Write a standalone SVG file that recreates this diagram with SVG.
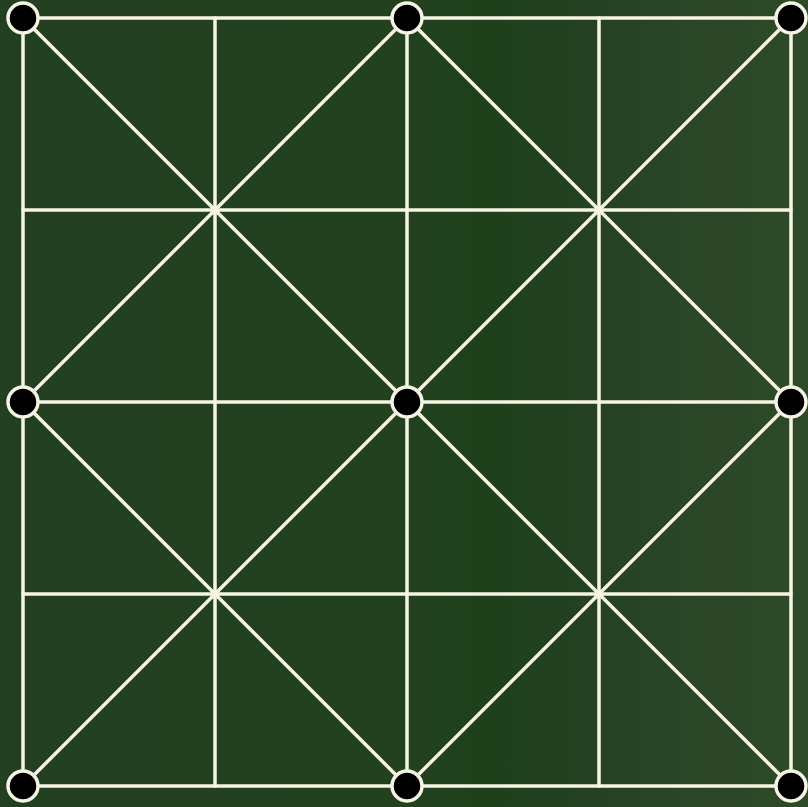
<svg xmlns="http://www.w3.org/2000/svg" width="808" height="807" viewBox="0 0 808 807">
<defs>
<linearGradient id="bg" x1="0" y1="0" x2="1" y2="0">
<stop offset="0" stop-color="#233f22"/>
<stop offset="0.5" stop-color="#23411f"/>
<stop offset="0.6" stop-color="#1f401b"/>
<stop offset="0.7" stop-color="#234021"/>
<stop offset="0.85" stop-color="#2b4527"/>
<stop offset="1" stop-color="#2e4a28"/>
</linearGradient>
<style>
.ln{stroke:#f6f5e4;stroke-width:3.5;fill:none;stroke-linecap:round}
.nd{fill:#000;stroke:#f6f5e4;stroke-width:3.5}
</style>
</defs>
<rect width="808" height="807" fill="url(#bg)"/>
<g id="connectors" class="ln">
<line x1="23" y1="18" x2="791" y2="18"/>
<line x1="23" y1="210" x2="791" y2="210"/>
<line x1="23" y1="402" x2="791" y2="402"/>
<line x1="23" y1="594" x2="791" y2="594"/>
<line x1="23" y1="786" x2="791" y2="786"/>
<line x1="23" y1="18" x2="23" y2="786"/>
<line x1="215" y1="18" x2="215" y2="786"/>
<line x1="407" y1="18" x2="407" y2="786"/>
<line x1="599" y1="18" x2="599" y2="786"/>
<line x1="791" y1="18" x2="791" y2="786"/>
<line x1="23" y1="18" x2="791" y2="786"/>
<line x1="791" y1="18" x2="23" y2="786"/>
<polygon points="407,18 791,402 407,786 23,402"/>
</g>
<g id="n00"><circle class="nd" cx="23" cy="18" r="15"/></g>
<g id="n01"><circle class="nd" cx="407" cy="18" r="15"/></g>
<g id="n02"><circle class="nd" cx="791" cy="18" r="15"/></g>
<g id="n10"><circle class="nd" cx="23" cy="402" r="15"/></g>
<g id="n11"><circle class="nd" cx="407" cy="402" r="15"/></g>
<g id="n12"><circle class="nd" cx="791" cy="402" r="15"/></g>
<g id="n20"><circle class="nd" cx="23" cy="786" r="15"/></g>
<g id="n21"><circle class="nd" cx="407" cy="786" r="15"/></g>
<g id="n22"><circle class="nd" cx="791" cy="786" r="15"/></g>
</svg>
